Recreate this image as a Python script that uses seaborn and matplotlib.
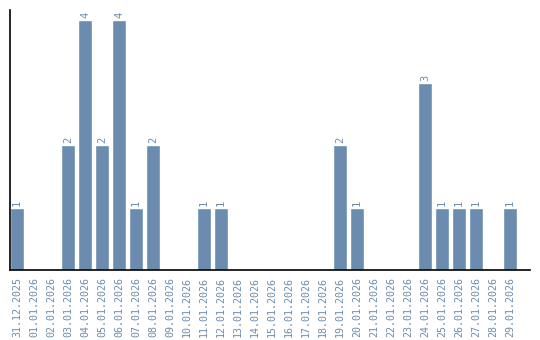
import matplotlib
matplotlib.use("Agg")
import matplotlib.pyplot as plt
import seaborn as sns
import pandas as pd

dates = ["31.12.2025", "01.01.2026", "02.01.2026", "03.01.2026", "04.01.2026",
         "05.01.2026", "06.01.2026", "07.01.2026", "08.01.2026", "09.01.2026",
         "10.01.2026", "11.01.2026", "12.01.2026", "13.01.2026", "14.01.2026",
         "15.01.2026", "16.01.2026", "17.01.2026", "18.01.2026", "19.01.2026",
         "20.01.2026", "21.01.2026", "22.01.2026", "23.01.2026", "24.01.2026",
         "25.01.2026", "26.01.2026", "27.01.2026", "28.01.2026", "29.01.2026"]
counts = [1, 0, 0, 2, 4, 2, 4, 1, 2, 0,
          0, 1, 1, 0, 0, 0, 0, 0, 0, 2,
          1, 0, 0, 0, 3, 1, 1, 1, 0, 1]

color = "#6b8cae"
df = pd.DataFrame({"date": dates, "count": counts})

sns.set_style("white")
plt.rcParams['font.family'] = ['DejaVu Sans Mono', 'DejaVu Sans']

fig = plt.figure(figsize=(5.4, 3.4), dpi=100)
ax = fig.add_axes([10/540, 70/340, 520/540, 260/340])
sns.barplot(data=df, x="date", y="count", color=color, width=14/17,
            saturation=1, ax=ax)

for i, v in enumerate(counts):
    if v > 0:
        ax.text(i, v + 0.03, str(v), rotation=90, ha="center", va="bottom",
                color=color, fontsize=7.5)

ax.set_xlim(-0.41, 30.18)
ax.set_ylim(0, 4.16)
ax.set_xlabel("")
ax.set_ylabel("")
ax.set_yticks([])
ax.tick_params(axis="x", length=0, pad=5, labelsize=7.2, labelcolor=color,
               rotation=90)
for s in ["top", "right"]:
    ax.spines[s].set_visible(False)
for s in ["left", "bottom"]:
    ax.spines[s].set_color("black")
    ax.spines[s].set_linewidth(1.2)

fig.savefig("out.png", dpi=100)
